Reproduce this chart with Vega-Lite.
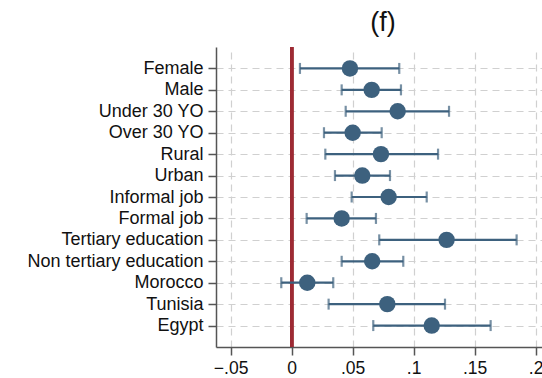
{
  "$schema": "https://vega.github.io/schema/vega-lite/v6.json",
  "autosize": "none",
  "width": 326,
  "height": 300,
  "padding": {"left": 216, "top": 47, "right": 0, "bottom": 31},
  "background": "white",
  "title": {
    "text": "(f)",
    "font": "Liberation Sans",
    "fontSize": 27,
    "fontWeight": "normal",
    "color": "#111111",
    "anchor": "middle",
    "dx": 4,
    "offset": 9
  },
  "config": {
    "view": {"stroke": null},
    "axis": {
      "labelFont": "Liberation Sans",
      "labelColor": "#111111",
      "domainColor": "#555555",
      "domainWidth": 1.5,
      "tickColor": "#555555",
      "tickWidth": 1.5,
      "gridColor": "#d0d0d0",
      "gridDash": [7, 5],
      "gridWidth": 1.2,
      "title": null
    }
  },
  "data": {
    "values": [
      {"group": "Female", "est": 0.0478, "lo": 0.0068, "hi": 0.0882},
      {"group": "Male", "est": 0.0656, "lo": 0.041, "hi": 0.0896},
      {"group": "Under 30 YO", "est": 0.0869, "lo": 0.0443, "hi": 0.129},
      {"group": "Over 30 YO", "est": 0.05, "lo": 0.0265, "hi": 0.0738},
      {"group": "Rural", "est": 0.0732, "lo": 0.0276, "hi": 0.12},
      {"group": "Urban", "est": 0.0579, "lo": 0.0355, "hi": 0.0806},
      {"group": "Informal job", "est": 0.0795, "lo": 0.0492, "hi": 0.1107},
      {"group": "Formal job", "est": 0.041, "lo": 0.0123, "hi": 0.0691},
      {"group": "Tertiary education", "est": 0.127, "lo": 0.0718, "hi": 0.1844},
      {"group": "Non tertiary education", "est": 0.066, "lo": 0.041, "hi": 0.0915},
      {"group": "Morocco", "est": 0.0128, "lo": -0.0085, "hi": 0.0341},
      {"group": "Tunisia", "est": 0.0784, "lo": 0.0303, "hi": 0.1257},
      {"group": "Egypt", "est": 0.1148, "lo": 0.0669, "hi": 0.1631}
    ]
  },
  "encoding": {
    "y": {
      "field": "group",
      "type": "nominal",
      "sort": null,
      "scale": {"type": "point", "padding": 1},
      "axis": {
        "grid": true,
        "labelFontSize": 18,
        "tickSize": 8,
        "labelPadding": 5
      }
    }
  },
  "layer": [
    {
      "mark": {"type": "rule", "color": "#9e2a34", "strokeWidth": 3},
      "encoding": {"x": {"datum": 0, "type": "quantitative"}, "y": null}
    },
    {
      "mark": {"type": "rule", "color": "#3d617e", "strokeWidth": 2.2},
      "encoding": {
        "x": {
          "field": "lo",
          "type": "quantitative",
          "scale": {"domain": [-0.062, 0.2052], "nice": false, "zero": false},
          "axis": {
            "values": [-0.05, 0, 0.05, 0.1, 0.15, 0.2],
            "labelExpr": "datum.value == 0 ? '0' : replace(replace(format(datum.value, '.2~f'), '0.', '.'), '-', '\u2013')",
            "grid": true,
            "labelFontSize": 17.5,
            "labelOverlap": false,
            "labelBound": false,
            "tickSize": 8,
            "labelPadding": 4
          }
        },
        "x2": {"field": "hi"}
      }
    },
    {
      "mark": {"type": "tick", "color": "#3d617e", "thickness": 2.2, "size": 11, "orient": "vertical"},
      "encoding": {"x": {"field": "lo", "type": "quantitative"}}
    },
    {
      "mark": {"type": "tick", "color": "#3d617e", "thickness": 2.2, "size": 11, "orient": "vertical"},
      "encoding": {"x": {"field": "hi", "type": "quantitative"}}
    },
    {
      "mark": {"type": "circle", "color": "#3d617e", "opacity": 1, "size": 270},
      "encoding": {"x": {"field": "est", "type": "quantitative"}}
    }
  ]
}
